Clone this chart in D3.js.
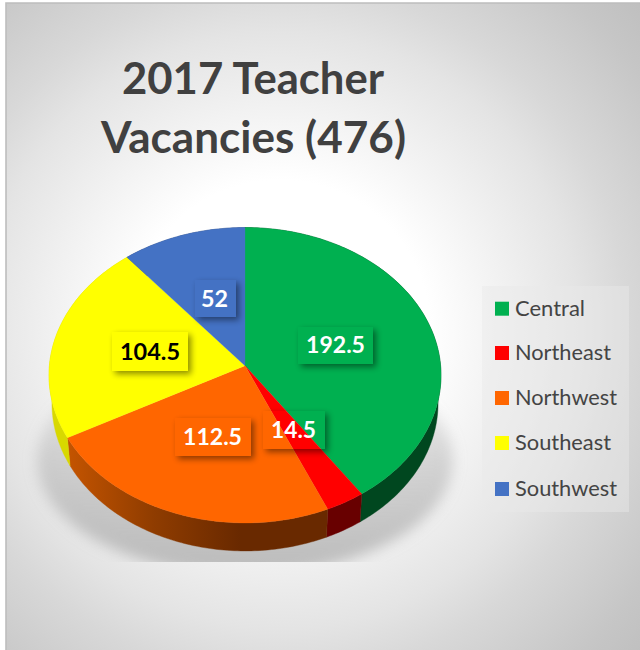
<!DOCTYPE html>
<html><head><meta charset="utf-8">
<style>html,body{margin:0;padding:0;background:#fff}svg{display:block}text{font-family:Lato,"Open Sans",sans-serif}</style>
<script src="https://cdn.jsdelivr.net/npm/d3@7/dist/d3.min.js"></script>
</head><body>
<script>
// ---- data ----
const categories = ["Central","Northeast","Northwest","Southeast","Southwest"];
const values = [192.5,14.5,112.5,104.5,52];
const valueLabels = ["192.5","14.5","112.5","104.5","52"];
const topColors = ["#00b050","#ff0000","#ff6600","#ffff00","#4472c4"];
const sideColors = ["#00471f","#680000","url(#orangeSide)","#d8d800","#2a4578"];
const labelColors = ["#ffffff","#ffffff","#ffffff","#000000","#ffffff"];
const titleLines = ["2017 Teacher","Vacancies (476)"];
// ---- layout ----
const W=640,H=650, cx=245, cy=365.7, RX=195.6, RY=147.1, K=0.0646, DEPTH=28, BOTTOM_SCALE=0.985;
const labelBoxes = [[298,327,75,37],[263,411,62,38],[175,418,76,38],[112,332,76,39],[195,280,41,37]]; // x,y,w,h
const labelText  = [[306,353,59],[271,438,45],[183,445,59],[120,360,60],[201,306.5,27]]; // x,baseline,width
const legendBaselines = [315.7,360,405,450,496];
const legendWidths = [70,96,102,96,102];

const svg=d3.select("body").append("svg").attr("width",W).attr("height",H);
const defs=svg.append("defs");
const bg=defs.append("radialGradient").attr("id","bg").attr("gradientUnits","userSpaceOnUse")
  .attr("cx",280).attr("cy",330).attr("r",490);
[[0,"#ffffff"],[.306,"#ffffff"],[.61,"#e4e4e4"],[.71,"#d8d8d8"],[.9,"#c6c6c6"],[1,"#bfbfbf"]].forEach(s=>bg.append("stop").attr("offset",s[0]).attr("stop-color",s[1]));
const os=defs.append("linearGradient").attr("id","orangeSide").attr("gradientUnits","userSpaceOnUse")
  .attr("x1",68).attr("x2",240).attr("y1",0).attr("y2",0);
[[0,"#c45400"],[.5,"#8f3c00"],[1,"#692900"]].forEach(s=>os.append("stop").attr("offset",s[0]).attr("stop-color",s[1]));
const sg=defs.append("linearGradient").attr("id","shadowFade").attr("x1",0).attr("x2",0).attr("y1",0).attr("y2",1);
[[0,0],[.25,.2],[.5,.42],[1,.72]].forEach(s=>sg.append("stop").attr("offset",s[0]).attr("stop-color","#a6a6a6").attr("stop-opacity",s[1]));
defs.append("filter").attr("id","blur8").attr("x","-20%").attr("y","-20%").attr("width","140%").attr("height","140%")
  .append("feGaussianBlur").attr("stdDeviation",7);
defs.append("filter").attr("id","blur3").attr("x","-30%").attr("y","-30%").attr("width","160%").attr("height","160%")
  .append("feGaussianBlur").attr("stdDeviation",3);
defs.append("clipPath").attr("id","shadowClip").append("rect").attr("x",0).attr("y",300).attr("width",W).attr("height",262);

// background and frame
svg.append("rect").attr("x",6).attr("y",3).attr("width",W-6).attr("height",H-3).attr("fill","url(#bg)");
svg.append("path").attr("d",`M6,650V3H640`).attr("fill","none").attr("stroke","#bdbdbd").attr("stroke-width",1.6);

// title
svg.append("g").selectAll("text").data(titleLines).join("text")
  .attr("x",(d,i)=>[122,101][i]).attr("y",(d,i)=>[94,153][i])
  .attr("textLength",(d,i)=>[262,305][i]).attr("lengthAdjust","spacingAndGlyphs")
  .attr("font-size",43).attr("font-weight",700).attr("fill","#404040").text(d=>d);

// perspective projection of a point on the pie disc
function project(a,f,low){
  const u=Math.sin(a)*f, v=-Math.cos(a)*f, w=1-K*v;
  const s=low?BOTTOM_SCALE:1;
  return [cx+RX*u/w*s, cy+RY*v/w+(low?DEPTH:0)];
}
const pie=d3.pie().sort(null).value(d=>d.value);
const arcs=pie(categories.map((c,i)=>({name:c,value:values[i],i})));
const line=d3.line();
const samples=d=>{const n=Math.max(8,Math.ceil((d.endAngle-d.startAngle)*60));
  return d3.range(n+1).map(j=>d.startAngle+(d.endAngle-d.startAngle)*j/n);};
const topPath=d=>line([[cx,cy],...samples(d).map(a=>project(a,1))])+"Z";
const sidePath=d=>{const s=samples(d);return line([...s.map(a=>project(a,1)),...s.slice().reverse().map(a=>project(a,1,true))])+"Z";};
const color=d3.scaleOrdinal(categories,topColors);
const side=d3.scaleOrdinal(categories,sideColors);

// soft shadow under the pie
svg.append("g").attr("clip-path","url(#shadowClip)").append("ellipse")
  .attr("cx",cx).attr("cy",460).attr("rx",208).attr("ry",115)
  .attr("fill","url(#shadowFade)").attr("filter","url(#blur8)");

// pie
svg.append("g").selectAll("path").data(arcs).join("path").attr("d",sidePath)
  .attr("fill",d=>side(d.data.name)).attr("stroke",d=>side(d.data.name)).attr("stroke-width",.4);
svg.append("g").selectAll("path").data(arcs).join("path").attr("d",topPath)
  .attr("fill",d=>color(d.data.name)).attr("stroke",d=>color(d.data.name)).attr("stroke-width",.3);

// data labels: no fill, drop shadow only outside the box
const masks=defs.selectAll("mask").data(labelBoxes).join("mask").attr("id",(d,i)=>"lm"+i)
  .attr("maskUnits","userSpaceOnUse").attr("x",0).attr("y",0).attr("width",W).attr("height",H);
masks.append("rect").attr("width",W).attr("height",H).attr("fill","#fff");
masks.append("rect").attr("x",d=>d[0]).attr("y",d=>d[1]).attr("width",d=>d[2]).attr("height",d=>d[3]).attr("fill","#000");
svg.append("g").selectAll("g").data(labelBoxes).join("g").attr("mask",(d,i)=>`url(#lm${i})`)
  .append("rect").attr("x",d=>d[0]+3).attr("y",d=>d[1]+3).attr("width",d=>d[2]).attr("height",d=>d[3])
  .attr("fill","#000").attr("opacity",.45).attr("filter","url(#blur3)");
svg.append("g").selectAll("text").data(valueLabels).join("text")
  .attr("x",(d,i)=>labelText[i][0]).attr("y",(d,i)=>labelText[i][1])
  .attr("textLength",(d,i)=>labelText[i][2]).attr("lengthAdjust","spacingAndGlyphs")
  .attr("font-size",23.5).attr("font-weight",700).attr("fill",(d,i)=>labelColors[i]).text(d=>d);

// legend
svg.append("rect").attr("x",482).attr("y",286).attr("width",147).attr("height",226).attr("fill","#e9e9e9").attr("opacity",.46);
const lg=svg.append("g").selectAll("g").data(categories).join("g");
lg.append("rect").attr("x",495).attr("y",(d,i)=>legendBaselines[i]-14).attr("width",14).attr("height",14).attr("fill",d=>color(d));
lg.append("text").attr("x",515).attr("y",(d,i)=>legendBaselines[i])
  .attr("textLength",(d,i)=>legendWidths[i]).attr("lengthAdjust","spacingAndGlyphs")
  .attr("font-size",20.5).attr("fill","#444").text(d=>d);
</script>
</body></html>
